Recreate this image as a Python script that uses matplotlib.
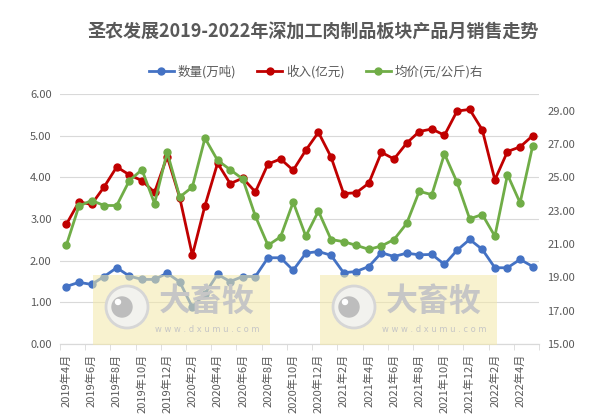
import matplotlib
matplotlib.use("Agg")
import matplotlib.pyplot as plt
from matplotlib.patches import Rectangle, Circle

plt.rcParams['font.family'] = ['Noto Sans CJK SC', 'DejaVu Sans']

# MARK: data

months = [f"{y}年{m}月" for y, m in
          [(2019, m) for m in range(4, 13)] + [(2020, m) for m in range(1, 13)] +
          [(2021, m) for m in range(1, 13)] + [(2022, m) for m in range(1, 6)]]

volume = [1.38, 1.48, 1.43, 1.62, 1.83, 1.63, 1.55, 1.55, 1.70, 1.49,
          0.88, 1.21, 1.67, 1.50, 1.62, 1.62, 2.07, 2.07, 1.77, 2.18,
          2.22, 2.13, 1.71, 1.74, 1.86, 2.19, 2.10, 2.18, 2.14, 2.15,
          1.91, 2.25, 2.51, 2.27, 1.83, 1.83, 2.03, 1.86]

revenue = [2.87, 3.41, 3.35, 3.77, 4.25, 4.06, 3.92, 3.64, 4.50, 3.51,
           2.13, 3.32, 4.34, 3.85, 3.98, 3.65, 4.32, 4.44, 4.17, 4.65,
           5.08, 4.49, 3.61, 3.63, 3.86, 4.60, 4.44, 4.82, 5.10, 5.16,
           5.01, 5.59, 5.63, 5.14, 3.94, 4.62, 4.73, 5.00]

price = [20.92, 23.27, 23.61, 23.31, 23.31, 24.80, 25.46, 23.43, 26.51, 23.82,
         24.42, 27.35, 26.02, 25.46, 24.90, 22.67, 20.92, 21.43, 23.51, 21.47,
         22.97, 21.27, 21.14, 20.92, 20.68, 20.88, 21.27, 22.23, 24.16, 23.96,
         26.41, 24.70, 22.51, 22.77, 21.47, 25.16, 23.47, 26.89]

series_names = ["数量(万吨)", "收入(亿元)", "均价(元/公斤)右"]
title = "圣农发展2019-2022年深加工肉制品板块产品月销售走势"

BLUE, RED, GREEN = "#4472C4", "#C00000", "#70AD47"
TXT = "#595959"
GRID = "#D9D9D9"

# MARK: figure

W, H = 594, 418
fig = plt.figure(figsize=(W / 100, H / 100), dpi=100, facecolor="white")
ax = fig.add_axes([60 / W, (H - 344) / H, 479 / W, 250 / H])
ax2 = ax.twinx()

x = list(range(len(months)))
lw, ms = 2.0, 5
l1, = ax.plot(x, volume, color=BLUE, lw=lw, marker="o", ms=ms, zorder=3)
l2, = ax.plot(x, revenue, color=RED, lw=lw, marker="o", ms=ms, zorder=3)
l3, = ax2.plot(x, price, color=GREEN, lw=lw, marker="o", ms=ms, zorder=3)

ax.set_xlim(-0.5, len(months) - 0.5)
ax.set_ylim(0, 6)
ax.set_yticks([0, 1, 2, 3, 4, 5, 6])
ax.set_yticklabels([f"{v:.2f}" for v in range(7)])
ax2.set_ylim(15, 30)
ax2.set_yticks(list(range(15, 30, 2)))
ax2.set_yticklabels([f"{v:.2f}" for v in range(15, 30, 2)])

ax.grid(axis="y", color=GRID, lw=0.8)
ax.set_axisbelow(True)
for a in (ax, ax2):
    for s in ("top", "left", "right"):
        a.spines[s].set_visible(False)
    a.spines["bottom"].set_color(GRID)
    a.tick_params(axis="y", length=0, labelsize=8, labelcolor=TXT, pad=6)

ax.set_xticks(x[::2])
ax.set_xticklabels(months[::2], rotation=90, fontsize=8, color=TXT)
ax.set_xticks([i - 0.5 for i in range(0, len(months) + 1, 2)], minor=True)
ax.tick_params(axis="x", which="major", length=0, pad=7)
ax.tick_params(axis="x", which="minor", length=4, color=GRID)

fig.text(313 / W, 1 - 32 / H, title, ha="center", va="center",
         fontsize=13, fontweight="bold", color=TXT)

fig.legend([l1, l2, l3], series_names, loc="center", ncol=3,
           bbox_to_anchor=(316 / W, 1 - 72 / H), frameon=False, fontsize=9,
           labelcolor=TXT, handlelength=2.0, columnspacing=1.7, handletextpad=0.3)

# MARK: watermark overlay

ov = fig.add_axes([0, 0, 1, 1], zorder=10)
ov.set_xlim(0, W)
ov.set_ylim(H, 0)
ov.axis("off")
ov.patch.set_alpha(0)
for x0 in (93, 320):
    ov.add_patch(Rectangle((x0, 275), 177, 70, color="#F3E9A8", alpha=0.55, lw=0))
    ov.add_patch(Circle((x0 + 34, 307), 21, fc="#F2F2EE", ec="#D6D6D6", lw=2))
    ov.add_patch(Circle((x0 + 29, 307), 10, color="#BDBDBD"))
    ov.add_patch(Circle((x0 + 25, 302), 2.5, color="white"))
    ov.text(x0 + 114, 302, "大畜牧", ha="center", va="center", fontsize=23,
            fontweight="bold", color="#C6C6C6")
    ov.text(x0 + 114, 329, "w w w . d x u m u . c o m", ha="center", va="center",
            fontsize=6, color="#C6C6C6", family="DejaVu Sans")

fig.savefig("out.png", dpi=100, facecolor="white")
